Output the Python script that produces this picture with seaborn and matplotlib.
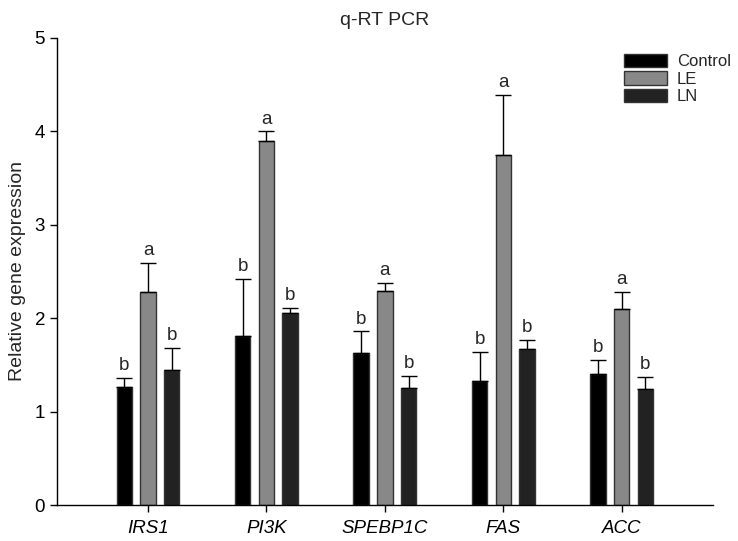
import numpy as np
import pandas as pd
import seaborn as sns
from matplotlib import pyplot as plt

genes = ['IRS1', 'PI3K', 'SPEBP1C', 'FAS', 'ACC']
groups = ['Control', 'LE', 'LN']

control = [1.26, 1.81, 1.63, 1.33, 1.40]
le = [2.28, 3.90, 2.29, 3.75, 2.10]
ln = [1.45, 2.05, 1.25, 1.67, 1.24]

control_err = [0.10, 0.61, 0.23, 0.31, 0.15]
le_err = [0.31, 0.10, 0.09, 0.64, 0.18]
ln_err = [0.23, 0.06, 0.13, 0.10, 0.13]

control_lab = ['b', 'b', 'b', 'b', 'b']
le_lab = ['a', 'a', 'a', 'a', 'a']
ln_lab = ['b', 'b', 'b', 'b', 'b']

colors = ['#000000', '#888888', '#222222']

df = pd.DataFrame({
    'gene': genes * 3,
    'group': ['Control'] * 5 + ['LE'] * 5 + ['LN'] * 5,
    'value': control + le + ln,
})
errs = [control_err, le_err, ln_err]
labs = [control_lab, le_lab, ln_lab]

sns.set_style('ticks')
plt.rcParams['font.family'] = ['Liberation Sans', 'DejaVu Sans']

fig = plt.figure(figsize=(7.38, 5.41), dpi=100)
ax = fig.add_axes([0.077, 0.0665, 0.889, 0.8635])

sns.barplot(data=df, x='gene', y='value', hue='group', order=genes,
            hue_order=groups, palette=colors, width=0.6, gap=0.35,
            errorbar=None, edgecolor='#333333', linewidth=1, ax=ax)

# upper error bars and significance letters
bar_conts = list(ax.containers)
for i, cont in enumerate(bar_conts):
    for j, bar in enumerate(cont):
        x = bar.get_x() + bar.get_width() / 2
        h = bar.get_height()
        e = errs[i][j]
        ax.errorbar(x, h, yerr=[[0], [e]], fmt='none', ecolor='black',
                    elinewidth=1, capsize=5.5, capthick=1)
        ax.text(x, h + e + 0.04, labs[i][j], ha='center', va='bottom', fontsize=13.5)

ax.set_xlim(-0.77, 4.77)
ax.set_ylim(0, 5)
ax.set_yticks([0, 1, 2, 3, 4, 5])
ax.tick_params(axis='both', labelsize=13.5, length=5, width=1, colors='black')
ax.tick_params(axis='x', pad=6)
for t in ax.get_xticklabels():
    t.set_style('italic')
ax.set_xlabel('')
ax.set_ylabel('Relative gene expression', fontsize=14, labelpad=6)
ax.set_title('q-RT PCR', fontsize=14, pad=9)
sns.despine(ax=ax)
for s in ['left', 'bottom']:
    ax.spines[s].set_linewidth(1)
    ax.spines[s].set_color('black')

ax.legend(loc='upper left', bbox_to_anchor=(0.854, 0.98), frameon=False,
          fontsize=12, handlelength=2.6, handleheight=0.85, labelspacing=0.12,
          handletextpad=0.6, borderaxespad=0)

fig.savefig('out.png', dpi=100)
